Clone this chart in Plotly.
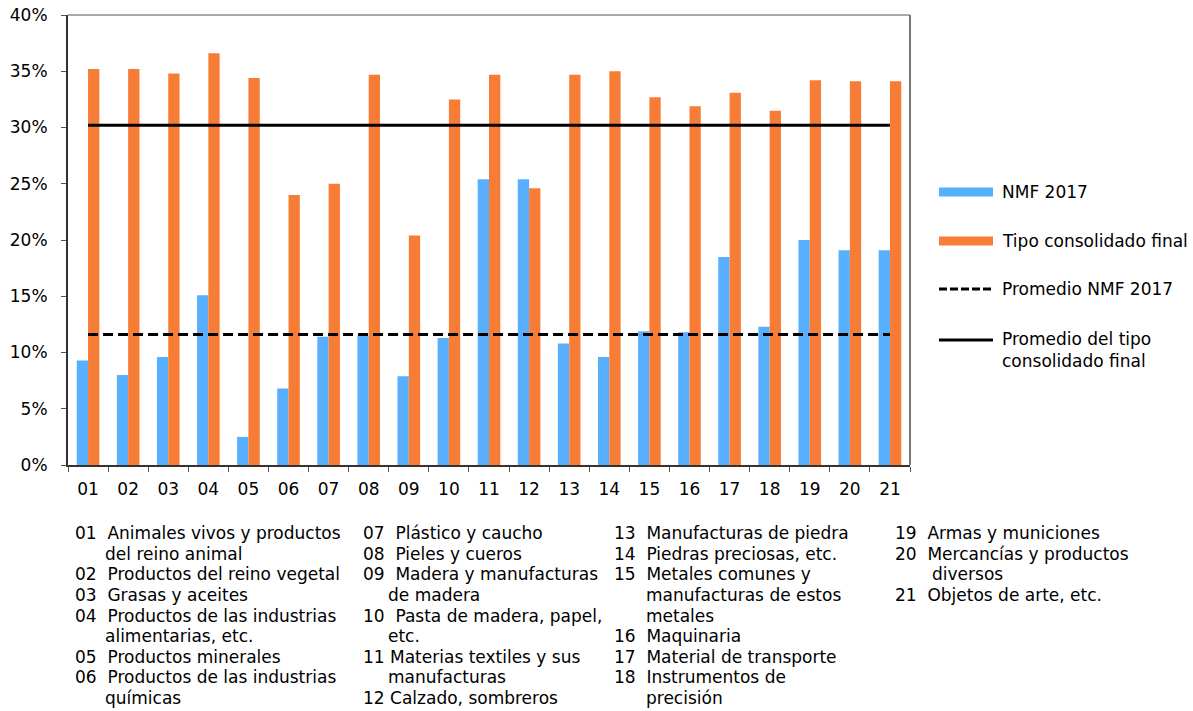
import plotly.graph_objects as go

# ---- data -------------------------------------------------------------
categories = ["01", "02", "03", "04", "05", "06", "07", "08", "09", "10", "11",
              "12", "13", "14", "15", "16", "17", "18", "19", "20", "21"]

nmf_2017 = [0.093, 0.080, 0.096, 0.151, 0.025, 0.068, 0.114, 0.115, 0.079, 0.113, 0.254,
            0.254, 0.108, 0.096, 0.119, 0.118, 0.185, 0.123, 0.200, 0.191, 0.191]

tipo_consolidado = [0.352, 0.352, 0.348, 0.366, 0.344, 0.240, 0.250, 0.347, 0.204, 0.325, 0.347,
                    0.246, 0.347, 0.350, 0.327, 0.319, 0.331, 0.315, 0.342, 0.341, 0.341]

promedio_nmf = 0.116
promedio_consolidado = 0.302

series_names = ["NMF 2017", "Tipo consolidado final",
                "Promedio NMF 2017", "Promedio del tipo<br>consolidado final"]

y_ticks = [0.0, 0.05, 0.10, 0.15, 0.20, 0.25, 0.30, 0.35, 0.40]

# section descriptions, one list per column; each entry is (first line, continuation lines)
desc_col1 = [
    ("01  Animales vivos y productos", ["del reino animal"]),
    ("02  Productos del reino vegetal", []),
    ("03  Grasas y aceites", []),
    ("04  Productos de las industrias", ["alimentarias, etc."]),
    ("05  Productos minerales", []),
    ("06  Productos de las industrias", ["químicas"]),
]
desc_col2 = [
    ("07  Plástico y caucho", []),
    ("08  Pieles y cueros", []),
    ("09  Madera y manufacturas", ["de madera"]),
    ("10  Pasta de madera, papel,", ["etc."]),
    ("11 Materias textiles y sus", ["manufacturas"]),
    ("12 Calzado, sombreros", []),
]
desc_col3 = [
    ("13  Manufacturas de piedra", []),
    ("14  Piedras preciosas, etc.", []),
    ("15  Metales comunes y", ["manufacturas de estos", "metales"]),
    ("16  Maquinaria", []),
    ("17  Material de transporte", []),
    ("18  Instrumentos de", ["precisión"]),
]
desc_col4 = [
    ("19  Armas y municiones", []),
    ("20  Mercancías y productos", ["diversos"]),
    ("21  Objetos de arte, etc.", []),
]

# ---- styling ----------------------------------------------------------
BLUE = "#57AFFD"
ORANGE = "#F77D37"
FONT = "DejaVu Sans"
W, H = 1193, 711
PL, PR, PT, PB = 68, 910, 15, 465   # plot area in pixels


def fx(px):
    return (px - PL) / (PR - PL)


def fy(py):
    return (PB - py) / (PB - PT)


fig = go.Figure()

fig.add_trace(go.Bar(x=categories, y=nmf_2017, name=series_names[0],
                     marker=dict(color=BLUE, line=dict(width=0)), showlegend=False))
fig.add_trace(go.Bar(x=categories, y=tipo_consolidado, name=series_names[1],
                     marker=dict(color=ORANGE, line=dict(width=0)), showlegend=False))
fig.add_trace(go.Scatter(x=categories, y=[promedio_nmf] * len(categories),
                         name=series_names[2], mode="lines",
                         line=dict(color="black", width=3, dash="10px,5px"),
                         showlegend=False))
fig.add_trace(go.Scatter(x=categories, y=[promedio_consolidado] * len(categories),
                         name=series_names[3], mode="lines",
                         line=dict(color="black", width=3), showlegend=False))

shapes = [
    # frame: top and right edges of the plot area
    dict(type="line", xref="paper", yref="paper", x0=0, x1=1, y0=1, y1=1,
         line=dict(color="#555555", width=1)),
    dict(type="line", xref="paper", yref="paper", x0=1, x1=1, y0=0, y1=1,
         line=dict(color="#777777", width=2)),
]
annotations = []

# legend built on the right-hand side
leg_x0, leg_x1, leg_tx = 939, 993, 1000
leg_rows = [192, 241, 289, 350]
shapes.append(dict(type="rect", xref="paper", yref="paper",
                   x0=fx(leg_x0), x1=fx(leg_x1), y0=fy(leg_rows[0] - 4.5), y1=fy(leg_rows[0] + 4.5),
                   fillcolor=BLUE, line=dict(width=0)))
shapes.append(dict(type="rect", xref="paper", yref="paper",
                   x0=fx(leg_x0), x1=fx(leg_x1), y0=fy(leg_rows[1] - 4.5), y1=fy(leg_rows[1] + 4.5),
                   fillcolor=ORANGE, line=dict(width=0)))
shapes.append(dict(type="line", xref="paper", yref="paper",
                   x0=fx(leg_x0), x1=fx(leg_x1), y0=fy(leg_rows[2]), y1=fy(leg_rows[2]),
                   line=dict(color="black", width=3, dash="8px,3px")))
shapes.append(dict(type="line", xref="paper", yref="paper",
                   x0=fx(leg_x0), x1=fx(leg_x1), y0=fy(340), y1=fy(340),
                   line=dict(color="black", width=3)))
for name, row in zip(series_names, leg_rows):
    annotations.append(dict(text=name, xref="paper", yref="paper",
                            x=fx(leg_tx), y=fy(row), xanchor="left", yanchor="middle",
                            align="left", showarrow=False,
                            font=dict(family=FONT, size=17, color="black")))

# section descriptions below the axis
ROW0, ROW_STEP = 533.3, 20.55
columns = [(desc_col1, 73, 103), (desc_col2, 361, 386),
           (desc_col3, 612, 644), (desc_col4, 893, 930)]
for items, num_x, cont_x in columns:
    row = 0
    for first, rest in items:
        lines = [(num_x, first.replace("  ", "\u00a0\u00a0"))] + [(cont_x, t) for t in rest]
        for lx, txt in lines:
            annotations.append(dict(text=txt, xref="paper", yref="paper",
                                    x=fx(lx), y=fy(ROW0 + row * ROW_STEP),
                                    xanchor="left", yanchor="middle", showarrow=False,
                                    font=dict(family=FONT, size=17, color="black")))
            row += 1

fig.update_layout(
    width=W, height=H, autosize=False,
    margin=dict(l=PL, r=W - PR, t=PT, b=H - PB, pad=0, autoexpand=False),
    paper_bgcolor="white", plot_bgcolor="white",
    barmode="group", bargap=0.436, bargroupgap=0,
    font=dict(family=FONT, size=16, color="black"),
    shapes=shapes, annotations=annotations,
    showlegend=False,
)
fig.update_xaxes(type="category", showgrid=False, zeroline=False, automargin=False,
                 showline=True, linecolor="#333333", linewidth=1.5,
                 ticks="outside", tickson="boundaries", ticklen=5, tickwidth=1,
                 tickcolor="#555555", tickfont=dict(family=FONT, size=17, color="black"),
                 ticklabelstandoff=8)
fig.update_yaxes(range=[0, 0.40], tickvals=y_ticks, tickformat=".0%", automargin=False,
                 showgrid=False, zeroline=False,
                 showline=True, linecolor="#333333", linewidth=2,
                 ticks="outside", ticklen=5, tickwidth=1, tickcolor="#555555",
                 tickfont=dict(family=FONT, size=17, color="black"),
                 ticklabelstandoff=10)

fig.write_html("out.html")
